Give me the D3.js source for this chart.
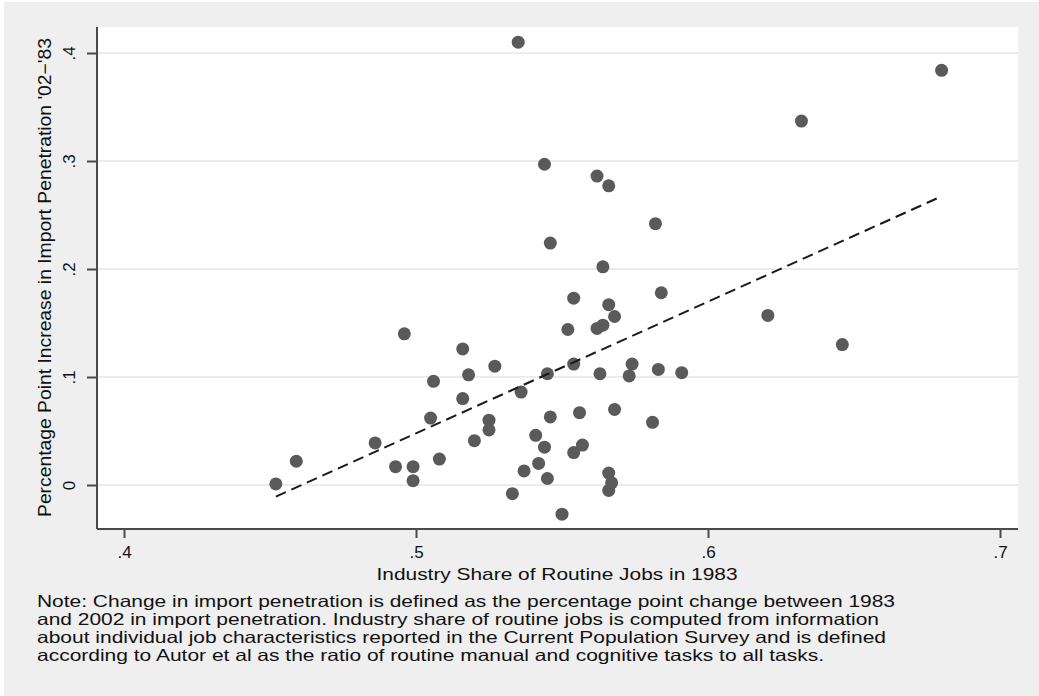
<!DOCTYPE html>
<html>
<head>
<meta charset="utf-8">
<script src="https://cdn.jsdelivr.net/npm/d3@7"></script>
<style>
  html, body { margin: 0; padding: 0; background: #fff; }
  svg { display: block; font-family: "Liberation Sans", Arial, sans-serif; }
</style>
</head>
<body>
<div id="chart"></div>
<script>
'use strict';

// routine job share in 1983 (x) and import penetration change '83-'02 (y)
const routineShare = [
    0.452, 0.459, 0.496, 0.486, 0.493, 0.499, 0.499, 0.506, 0.505, 0.508,
    0.516, 0.518, 0.516, 0.525, 0.525, 0.520, 0.527, 0.536, 0.545, 0.554,
    0.563, 0.574, 0.573, 0.583, 0.591, 0.546, 0.556, 0.568, 0.581, 0.541,
    0.544, 0.557, 0.554, 0.542, 0.537, 0.545, 0.566, 0.567, 0.566, 0.533,
    0.550, 0.544, 0.562, 0.566, 0.582, 0.546, 0.564, 0.554, 0.584, 0.566,
    0.568, 0.552, 0.562, 0.564, 0.535, 0.680, 0.632, 0.6205, 0.646
];
const importIncrease = [
    0.001, 0.022, 0.140, 0.039, 0.017, 0.017, 0.004, 0.096, 0.062, 0.024,
    0.126, 0.102, 0.080, 0.060, 0.051, 0.041, 0.110, 0.086, 0.103, 0.112,
    0.103, 0.112, 0.101, 0.107, 0.104, 0.063, 0.067, 0.070, 0.058, 0.046,
    0.035, 0.037, 0.030, 0.020, 0.013, 0.006, 0.011, 0.002, -0.005, -0.008,
    -0.027, 0.297, 0.286, 0.277, 0.242, 0.224, 0.202, 0.173, 0.178, 0.167,
    0.156, 0.144, 0.145, 0.148, 0.410, 0.384, 0.337, 0.157, 0.130
];
const xTicks = [0.4, 0.5, 0.6, 0.7];
const yTicks = [0, 0.1, 0.2, 0.3, 0.4];

const xTitle = 'Industry Share of Routine Jobs in 1983';
const yTitle = 'Percentage Point Increase in Import Penetration \'02\u2212\'83';
const noteLines = [
    'Note: Change in import penetration is defined as the percentage point change between 1983',
    'and 2002 in import penetration. Industry share of routine jobs is computed from information',
    'about individual job characteristics reported in the Current Population Survey and is defined',
    'according to Autor et al as the ratio of routine manual and cognitive tasks to all tasks.'
];
const noteWidths = [858, 842, 849, 787];

const width = 1039,
    height = 696,
    plot = {left: 97, right: 1018, top: 27, bottom: 529};

const points = routineShare.map((x, i) => ({x: x, y: importIncrease[i]}));

const x = d3.scaleLinear().domain([0.4, 0.7]).range([124, 1000]),
    y = d3.scaleLinear().domain([0, 0.4]).range([485, 53]);

const tickFormat = d => d === 0 ? '0' : d3.format('.1f')(d).replace(/^0/, '');

const svg = d3.select('#chart')
    .append('svg')
    .attr('width', width)
    .attr('height', height);

// graph region and plot region
svg.append('rect')
    .attr('x', 4).attr('y', 2)
    .attr('width', width - 4).attr('height', height - 2)
    .attr('fill', '#efefef');

svg.append('rect')
    .attr('x', plot.left).attr('y', plot.top)
    .attr('width', plot.right - plot.left).attr('height', plot.bottom - plot.top)
    .attr('fill', '#fff');

// gridlines
svg.append('g')
    .selectAll('line')
    .data(yTicks)
    .join('line')
    .attr('x1', plot.left).attr('x2', plot.right)
    .attr('y1', d => y(d)).attr('y2', d => y(d))
    .attr('stroke', '#ebebeb')
    .attr('stroke-width', 2);

// axes
const yAxis = svg.append('g')
    .attr('transform', 'translate(' + plot.left + ',0)')
    .call(d3.axisLeft(y).tickValues(yTicks).tickSize(10).tickSizeOuter(0).tickFormat(tickFormat));
yAxis.select('.domain')
    .attr('d', 'M0,' + plot.top + 'V' + plot.bottom);

const xAxis = svg.append('g')
    .attr('transform', 'translate(0,' + plot.bottom + ')')
    .call(d3.axisBottom(x).tickValues(xTicks).tickSize(9).tickSizeOuter(0).tickFormat(tickFormat));
xAxis.select('.domain')
    .attr('d', 'M' + plot.left + ',0H' + plot.right);

svg.selectAll('.domain, .tick line')
    .attr('stroke', '#4a4a4a')
    .attr('stroke-width', 2);

yAxis.selectAll('.tick text')
    .attr('x', null).attr('dy', null)
    .attr('transform', 'translate(-22,0) rotate(-90)')
    .attr('text-anchor', 'middle')
    .attr('fill', '#111')
    .style('font-size', '17px');

xAxis.selectAll('.tick text')
    .attr('y', 29).attr('dy', null)
    .attr('fill', '#111')
    .style('font-size', '17px');

// fitted values
const mx = d3.mean(points, d => d.x),
    my = d3.mean(points, d => d.y),
    slope = d3.sum(points, d => (d.x - mx) * (d.y - my)) / d3.sum(points, d => (d.x - mx) ** 2),
    intercept = my - slope * mx,
    xExtent = d3.extent(points, d => d.x);

// points
svg.append('g')
    .selectAll('circle')
    .data(points)
    .join('circle')
    .attr('cx', d => x(d.x))
    .attr('cy', d => y(d.y))
    .attr('r', 6.5)
    .attr('fill', '#5a5a5a');

svg.append('path')
    .datum(xExtent.map(v => ({x: v, y: intercept + slope * v})))
    .attr('d', d3.line().x(d => x(d.x)).y(d => y(d.y)))
    .attr('fill', 'none')
    .attr('stroke', '#1a1a1a')
    .attr('stroke-width', 2)
    .attr('stroke-dasharray', '11,6');

// titles
svg.append('text')
    .attr('x', 557).attr('y', 580)
    .attr('text-anchor', 'middle')
    .attr('textLength', 361)
    .attr('lengthAdjust', 'spacingAndGlyphs')
    .attr('fill', '#111')
    .style('font-size', '17px')
    .text(xTitle);

svg.append('text')
    .attr('transform', 'translate(51,277.5) rotate(-90)')
    .attr('text-anchor', 'middle')
    .attr('textLength', 479)
    .attr('lengthAdjust', 'spacingAndGlyphs')
    .attr('fill', '#111')
    .style('font-size', '18px')
    .text(yTitle);

svg.append('g')
    .selectAll('text')
    .data(noteLines)
    .join('text')
    .attr('x', 37)
    .attr('y', (d, i) => 607 + i * 18)
    .attr('textLength', (d, i) => noteWidths[i])
    .attr('lengthAdjust', 'spacingAndGlyphs')
    .attr('fill', '#111')
    .style('font-size', '16.5px')
    .text(d => d);
</script>
</body>
</html>
